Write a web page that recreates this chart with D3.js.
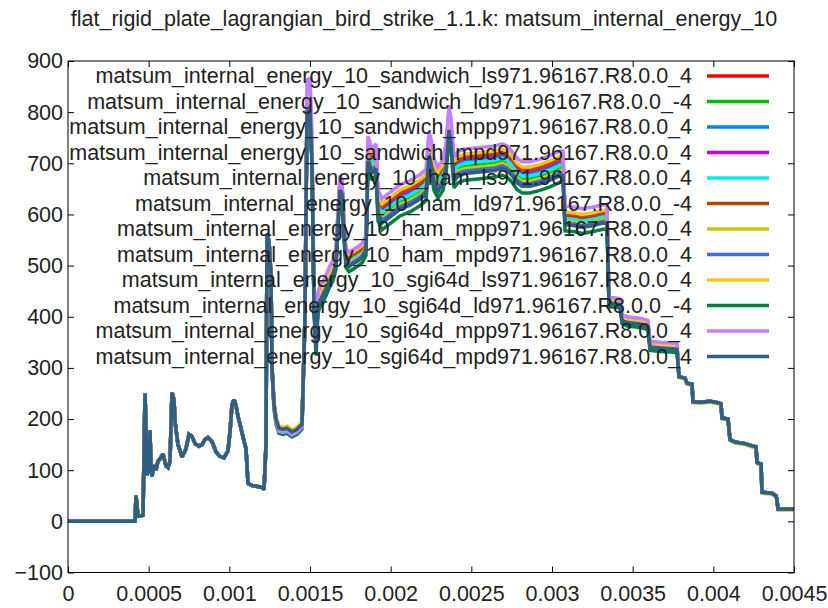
<!DOCTYPE html>
<html><head><meta charset="utf-8">
<script src="https://cdn.jsdelivr.net/npm/d3@7"></script>
<style>body{margin:0;background:#fff}svg{display:block}</style></head>
<body><svg id="chart" width="828" height="608"></svg>
<script>
const titleText = "flat_rigid_plate_lagrangian_bird_strike_1.1.k: matsum_internal_energy_10";
const seriesLabels = [
  "matsum_internal_energy_10_sandwich_ls971.96167.R8.0.0_4",
  "matsum_internal_energy_10_sandwich_ld971.96167.R8.0.0_-4",
  "matsum_internal_energy_10_sandwich_mpp971.96167.R8.0.0_4",
  "matsum_internal_energy_10_sandwich_mpd971.96167.R8.0.0_4",
  "matsum_internal_energy_10_ham_ls971.96167.R8.0.0_4",
  "matsum_internal_energy_10_ham_ld971.96167.R8.0.0_-4",
  "matsum_internal_energy_10_ham_mpp971.96167.R8.0.0_4",
  "matsum_internal_energy_10_ham_mpd971.96167.R8.0.0_4",
  "matsum_internal_energy_10_sgi64d_ls971.96167.R8.0.0_4",
  "matsum_internal_energy_10_sgi64d_ld971.96167.R8.0.0_-4",
  "matsum_internal_energy_10_sgi64d_mpp971.96167.R8.0.0_4",
  "matsum_internal_energy_10_sgi64d_mpd971.96167.R8.0.0_4"
];
const seriesColors = ["#ff0000","#00c000","#0080ff","#c000ff","#00eeee","#c04000",
  "#c8c800","#4169e1","#ffc020","#008040","#c080ff","#306080"];

const xTicks = [0,0.0005,0.001,0.0015,0.002,0.0025,0.003,0.0035,0.004,0.0045];
const xTickLabels = ["0","0.0005","0.001","0.0015","0.002","0.0025","0.003","0.0035","0.004","0.0045"];
const yTicks = [-100,0,100,200,300,400,500,600,700,800,900];

// time in milliseconds
const time_ms = [0,0.4153,0.4215,0.4339,0.4649,0.4773,0.4835,0.4897,0.4959,0.5021,0.5083,0.5145,0.5207,0.5331,0.5455,0.5579,0.5702,0.5888,0.6074,0.6198,0.6322,0.6446,0.6570,0.6632,0.6818,0.7066,0.7314,0.7500,0.7686,0.7872,0.8120,0.8306,0.8492,0.8678,0.8926,0.9173,0.9421,0.9669,0.9917,1.0041,1.0165,1.0289,1.0413,1.0537,1.0661,1.0847,1.1033,1.1157,1.1405,1.1777,1.2025,1.2149,1.2273,1.2335,1.2459,1.2583,1.2645,1.2769,1.2893,1.3078,1.3326,1.3574,1.3884,1.4194,1.4504,1.4690,1.4814,1.5000,1.5124,1.5248,1.5372,1.5496,1.5620,1.5868,1.6054,1.6240,1.6426,1.6612,1.6735,1.6859,1.6983,1.7107,1.7231,1.7417,1.7665,1.7913,1.8223,1.8471,1.8595,1.8843,1.9091,1.9215,1.9463,1.9959,2.0578,2.1198,2.1818,2.2190,2.2376,2.2500,2.2686,2.2934,2.3244,2.3430,2.3616,2.3740,2.3925,2.4173,2.4607,2.5537,2.6467,2.6901,2.7211,2.7520,2.7830,2.8140,2.8636,2.9256,2.9876,3.0496,3.0682,3.0806,3.1426,3.1860,3.2479,3.3161,3.3409,3.3533,3.3905,3.4215,3.4339,3.4649,3.5455,3.5950,3.6074,3.6694,3.7314,3.7748,3.7872,3.8244,3.8368,3.8678,3.8740,3.9174,3.9793,4.0289,4.0475,4.0537,4.0909,4.1033,4.1343,4.1963,4.2459,4.2645,4.2707,4.2955,4.3017,4.3636,4.3884,4.3946,4.4008,4.5000];

// sgi64d_mpd series (drawn on top)
const energy_sgi64d_mpd = [0,0,50,10,12,250,180,90,120,95,178,100,88,110,100,118,122,132,108,105,118,252,238,195,150,126,142,170,166,152,147,150,160,164,156,136,127,124,138,175,228,238,226,205,190,165,142,74,70,68,66,62,150,562,548,480,300,228,200,182,180,182,175,180,190,400,800,805,700,420,336,420,432,445,458,472,482,505,580,648,640,560,506,498,503,508,515,530,705,680,690,600,583,595,610,618,630,640,715,700,660,645,660,690,765,740,665,675,680,683,686,690,686,676,662,655,655,660,667,676,676,580,578,575,578,583,583,425,425,423,393,388,385,381,340,338,337,336,283,280,270,268,234,233,235,232,230,202,200,160,155,152,147,146,115,112,57,55,50,42,24,24];

// differences of each run from the sgi64d_mpd run, per time segment
const segmentStart_ms = [0, 1.27, 1.47, 1.52, 1.67, 1.85, 3.075, 3.345, 3.78];
const seriesOffsets = [
  [0, 3, 12, 14, 20, 34, 22, 5, 0],
  [0, 0, 2, 2, 8, 14, 9, 1, 0],
  [0, 0, 10, 24, 16, 26, 16, 5, 0],
  [0, 0, 8, 12, 16, 30, 19, 5, 0],
  [0, 0, 6, 10, 12, 20, 12, 4, 0],
  [0, 0, 5, 8, 18, 32, 20, 3, 0],
  [0, -2, 4, 6, 6, 10, 7, 2, -2],
  [0, 0, 3, 3, 3, 5, 3, 2, 0],
  [0, 4, 15, 18, 24, 38, 25, 8, 0],
  [0, -10, -6, -12, -10, -13, -12, -6, 0],
  [0, -6, 62, 28, 28, 48, 36, 12, 0],
  [0, 0, 0, 0, 0, 0, 0, 0, 0]
];

const svg = d3.select("#chart");
const M = {left: 68, right: 794, top: 61, bottom: 572.5};
const x = d3.scaleLinear().domain([0, 0.0045]).range([M.left, M.right]);
const y = d3.scaleLinear().domain([-100, 900]).range([M.bottom, M.top]);
const FONT = "'Liberation Sans', Arial, sans-serif";
const FS = 21.5;

const series = seriesLabels.map((label, s) => ({
  label, color: seriesColors[s],
  values: time_ms.map((t, i) => {
    const seg = d3.bisectRight(segmentStart_ms, t) - 1;
    return {t: t / 1000, v: energy_sgi64d_mpd[i] + seriesOffsets[s][seg]};
  })
}));

// title
svg.append("text").attr("x", 424).attr("y", 19).attr("text-anchor", "middle")
  .attr("dominant-baseline", "central").attr("font-family", FONT).attr("font-size", FS)
  .attr("fill", "#222").text(titleText);

// axes
const gl = svg.append("g").attr("transform", `translate(${M.left},0)`)
  .call(d3.axisLeft(y).tickValues(yTicks).tickSize(-6).tickPadding(5).tickFormat(d3.format("d")));
const gb = svg.append("g").attr("transform", `translate(0,${M.bottom})`)
  .call(d3.axisBottom(x).tickValues(xTicks).tickSize(-6).tickPadding(13).tickFormat((d, i) => xTickLabels[i]));
const gr = svg.append("g").attr("transform", `translate(${M.right},0)`)
  .call(d3.axisRight(y).tickValues(yTicks).tickSize(-6).tickFormat(""));
const gt = svg.append("g").attr("transform", `translate(0,${M.top})`)
  .call(d3.axisTop(x).tickValues(xTicks).tickSize(-6).tickFormat(""));
[gl, gb, gr, gt].forEach(g => {
  g.select(".domain").remove();
  g.selectAll("line").attr("stroke", "#000");
  g.selectAll("text").attr("font-family", FONT).attr("font-size", FS).attr("fill", "#222");
});

// plot
svg.append("clipPath").attr("id", "clip").append("rect")
  .attr("x", M.left).attr("y", M.top).attr("width", M.right - M.left).attr("height", M.bottom - M.top);
const line = d3.line().x(d => x(d.t)).y(d => y(d.v));
svg.append("g").attr("clip-path", "url(#clip)").selectAll("path").data(series).join("path")
  .attr("d", d => line(d.values)).attr("fill", "none").attr("stroke", d => d.color)
  .attr("stroke-width", 3.5).attr("stroke-linejoin", "miter").attr("stroke-miterlimit", 2);

// legend
const lg = svg.append("g");
series.forEach((s, i) => {
  const yy = 76 + i * 25.5;
  lg.append("text").attr("x", 692).attr("y", yy).attr("text-anchor", "end")
    .attr("dominant-baseline", "central").attr("font-family", FONT).attr("font-size", FS)
    .attr("fill", "#222").text(s.label);
  lg.append("line").attr("x1", 707).attr("x2", 769).attr("y1", yy).attr("y2", yy)
    .attr("stroke", s.color).attr("stroke-width", 3.5);
});

// border
svg.append("rect").attr("x", M.left).attr("y", M.top).attr("width", M.right - M.left)
  .attr("height", M.bottom - M.top).attr("fill", "none").attr("stroke", "#000").attr("stroke-width", 1);
</script></body></html>
